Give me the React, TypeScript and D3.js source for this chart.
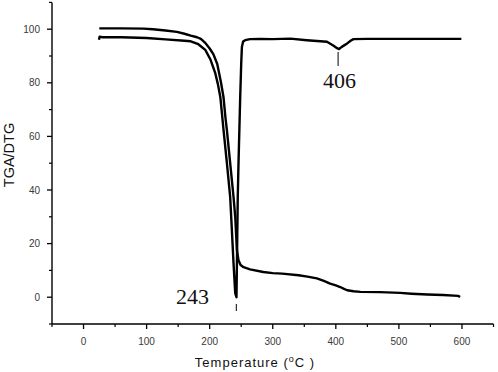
import React from "react";
import * as d3 from "d3";

const tgaData: [number, number][] = [
  [25, 100.3], [60, 100.3], [95, 100.2], [110, 100], [130, 99.5], [148, 99], [160, 98.3],
  [170, 97.6], [180, 97], [186, 96.4], [193, 94.9], [200, 92.8], [206, 90.6], [212, 87],
  [218, 80], [222, 74.5], [225, 67], [227.3, 62.3], [232.5, 50], [237.8, 37.4], [240.5, 30],
  [243.2, 17.5], [245.7, 13.8], [249, 12], [253.7, 11.2], [264, 10.4], [285, 9.4],
  [300, 9], [315, 8.8], [341, 8.2], [355, 7.7], [370, 7], [381, 6.1], [391, 5.1], [400, 4.4],
  [407, 3.8], [413, 3.1], [418, 2.6], [428, 2.2], [439, 2], [470, 1.9], [502, 1.6],
  [520, 1.3], [545, 1], [570, 0.8], [594, 0.5], [597, 0.1],
];

const dtgData: [number, number][] = [
  [24.5, 96.1], [25.5, 97.2], [30, 97], [60, 97], [100, 96.7], [130, 96.2], [160, 95.7],
  [170, 95.5], [182, 94.4], [193, 92.3], [201, 88.8], [209, 83.5], [213, 79.5], [217, 74.5],
  [222, 62.3], [227.3, 50], [232.5, 37.4], [235.2, 25], [237.8, 12.7], [240.5, 1.5],
  [242.5, 0], [243.5, 18], [244.5, 37], [245.7, 50], [248.4, 74.7], [250, 87.2],
  [251.1, 93.4], [253, 95.4], [256.3, 95.9], [264, 96.3], [280, 96.4], [300, 96.3],
  [328, 96.5], [354, 95.9], [370, 95.6], [386, 95.3], [396.5, 93.8], [402, 92.9],
  [405, 92.6], [410, 93.5], [418, 94.7], [424, 95.8], [428, 96.3], [450, 96.4],
  [500, 96.4], [599, 96.4],
];

const xMajorTicks = [0, 100, 200, 300, 400, 500, 600];
const xMinorTicks = [-50, 50, 150, 250, 350, 450, 550, 650];
const yMajorTicks = [0, 20, 40, 60, 80, 100];
const yMinorTicks = [-10, 10, 30, 50, 70, 90, 110];

const peakLabels = [
  { t: 243, text: "243" },
  { t: 406, text: "406" },
];

export default function App() {
  const x = d3.scaleLinear().domain([-50, 650]).range([52, 493.5]);
  const y = d3.scaleLinear().domain([-10, 110]).range([324, 2.4]);
  const line = d3
    .line<[number, number]>()
    .x((d) => x(d[0]))
    .y((d) => y(d[1]));

  const axisColor = "#000";
  const labelColor = "#3a3a3a";
  const x0 = x(-50);
  const y0 = y(-10);

  return (
    <svg
      width={498}
      height={372}
      style={{ position: "fixed", left: 0, top: 0, background: "#fff" }}
    >
      <rect x={0} y={0} width={498} height={372} fill="#fff" />
      {/* axes */}
      <line x1={x0} y1={y(110)} x2={x0} y2={y0} stroke={axisColor} strokeWidth={1.4} />
      <line x1={x0} y1={y0} x2={x(650)} y2={y0} stroke={axisColor} strokeWidth={1.4} />
      {yMajorTicks.map((v) => (
        <g key={"ym" + v}>
          <line x1={x0 - 5} x2={x0} y1={y(v)} y2={y(v)} stroke={axisColor} strokeWidth={1.3} />
          <text
            x={40}
            y={y(v)}
            dy="0.35em"
            textAnchor="end"
            fontFamily="Liberation Sans, Arial, sans-serif"
            fontSize={10}
            fill={labelColor}
          >
            {v}
          </text>
        </g>
      ))}
      {yMinorTicks.map((v) => (
        <line key={"yn" + v} x1={x0 - 3} x2={x0} y1={y(v)} y2={y(v)} stroke={axisColor} strokeWidth={1.2} />
      ))}
      {xMajorTicks.map((v) => (
        <g key={"xm" + v}>
          <line x1={x(v)} x2={x(v)} y1={y0} y2={y0 + 5} stroke={axisColor} strokeWidth={1.3} />
          <text
            x={x(v)}
            y={345}
            textAnchor="middle"
            fontFamily="Liberation Sans, Arial, sans-serif"
            fontSize={10}
            fill={labelColor}
          >
            {v}
          </text>
        </g>
      ))}
      {xMinorTicks.map((v) => (
        <line key={"xn" + v} x1={x(v)} x2={x(v)} y1={y0} y2={y0 + 3} stroke={axisColor} strokeWidth={1.2} />
      ))}
      {/* axis titles */}
      <text
        x={255}
        y={367}
        textAnchor="middle"
        fontFamily="Liberation Sans, Arial, sans-serif"
        fontSize={13}
        letterSpacing={1}
        fill="#111"
      >
        Temperature (
        <tspan fontSize={9} dy={-5}>o</tspan>
        <tspan dy={5}>C )</tspan>
      </text>
      <text
        transform={`translate(13.5, 155) rotate(-90)`}
        textAnchor="middle"
        fontFamily="Liberation Sans, Arial, sans-serif"
        fontSize={14.5}
        fill="#111"
      >
        TGA/DTG
      </text>
      {/* curves */}
      <path d={line(tgaData) || ""} fill="none" stroke="#000" strokeWidth={2.4} strokeLinejoin="round" />
      <path d={line(dtgData) || ""} fill="none" stroke="#000" strokeWidth={2.4} strokeLinejoin="round" />
      {/* peak annotations */}
      <line x1={x(peakLabels[0].t) - 0.5} x2={x(peakLabels[0].t) - 0.5} y1={304} y2={311} stroke="#000" strokeWidth={1} />
      <text
        x={192.5}
        y={304}
        textAnchor="middle"
        fontFamily="Liberation Serif, Times New Roman, serif"
        fontSize={22}
        fill="#111"
      >
        {peakLabels[0].text}
      </text>
      <line x1={x(peakLabels[1].t) - 1.5} x2={x(peakLabels[1].t) - 1.5} y1={52} y2={66} stroke="#000" strokeWidth={1} />
      <text
        x={339.5}
        y={88}
        textAnchor="middle"
        fontFamily="Liberation Serif, Times New Roman, serif"
        fontSize={22}
        fill="#111"
      >
        {peakLabels[1].text}
      </text>
    </svg>
  );
}
